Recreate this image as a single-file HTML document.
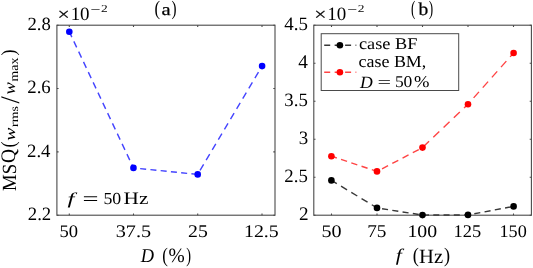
<!DOCTYPE html><html><head><meta charset="utf-8"><style>
html,body{margin:0;padding:0;background:#fff;}
svg{display:block;will-change:transform;}
text{font-family:"Liberation Serif",serif;fill:#000;font-kerning:none;text-rendering:geometricPrecision;}
.i{font-style:italic;}
</style></head><body>
<svg width="533" height="268" viewBox="0 0 533 268">
<rect width="533" height="268" fill="#fff"/>
<rect x="56.9" y="25.2" width="218.10" height="190.00" fill="none" stroke="#4a4a4a" stroke-width="1.1"/>
<path d="M69.3,215.2v-1.7M69.3,25.2v1.7M133.5,215.2v-1.7M133.5,25.2v1.7M197.7,215.2v-1.7M197.7,25.2v1.7M262.0,215.2v-1.7M262.0,25.2v1.7M56.9,215.20h1.7M275.0,215.20h-1.7M56.9,151.87h1.7M275.0,151.87h-1.7M56.9,88.53h1.7M275.0,88.53h-1.7M56.9,25.20h1.7M275.0,25.20h-1.7" stroke="#4a4a4a" stroke-width="1.1" fill="none"/>
<rect x="313.8" y="25.2" width="217.60" height="190.00" fill="none" stroke="#4a4a4a" stroke-width="1.1"/>
<path d="M331.5,215.2v-1.7M331.5,25.2v1.7M377.0,215.2v-1.7M377.0,25.2v1.7M422.5,215.2v-1.7M422.5,25.2v1.7M468.0,215.2v-1.7M468.0,25.2v1.7M513.5,215.2v-1.7M513.5,25.2v1.7M313.8,215.20h1.7M531.4,215.20h-1.7M313.8,177.20h1.7M531.4,177.20h-1.7M313.8,139.20h1.7M531.4,139.20h-1.7M313.8,101.20h1.7M531.4,101.20h-1.7M313.8,63.20h1.7M531.4,63.20h-1.7M313.8,25.20h1.7M531.4,25.20h-1.7" stroke="#4a4a4a" stroke-width="1.1" fill="none"/>
<path d="M69.30,31.70L133.45,167.90" stroke="#4444ff" stroke-width="1.4" fill="none" stroke-dasharray="6.632 4.698" stroke-dashoffset="0.663"/>
<path d="M133.45,167.90L197.70,174.40" stroke="#4444ff" stroke-width="1.4" fill="none" stroke-dasharray="6.031 4.272" stroke-dashoffset="3.568"/>
<path d="M197.70,174.40L262.10,66.10" stroke="#4444ff" stroke-width="1.4" fill="none" stroke-dasharray="6.981 4.945" stroke-dashoffset="7.330"/>
<circle cx="69.30" cy="31.70" r="3.3" fill="#0000ff"/>
<circle cx="133.45" cy="167.90" r="3.3" fill="#0000ff"/>
<circle cx="197.70" cy="174.40" r="3.3" fill="#0000ff"/>
<circle cx="262.10" cy="66.10" r="3.3" fill="#0000ff"/>
<path d="M331.40,180.40L377.00,207.90" stroke="#383838" stroke-width="1.4" fill="none" stroke-dasharray="7.007 4.963" stroke-dashoffset="0.701"/>
<path d="M377.00,207.90L422.50,215.10" stroke="#383838" stroke-width="1.4" fill="none" stroke-dasharray="6.075 4.303" stroke-dashoffset="5.265"/>
<path d="M422.50,215.10L468.00,214.90" stroke="#383838" stroke-width="1.4" fill="none" stroke-dasharray="6.000 4.250" stroke-dashoffset="9.700"/>
<path d="M468.00,214.90L513.60,206.40" stroke="#383838" stroke-width="1.4" fill="none" stroke-dasharray="6.103 4.323" stroke-dashoffset="4.018"/>
<circle cx="331.40" cy="180.40" r="3.3" fill="#000000"/>
<circle cx="377.00" cy="207.90" r="3.3" fill="#000000"/>
<circle cx="422.50" cy="215.10" r="3.3" fill="#000000"/>
<circle cx="468.00" cy="214.90" r="3.3" fill="#000000"/>
<circle cx="513.60" cy="206.40" r="3.3" fill="#000000"/>
<path d="M331.40,156.20L377.00,171.40" stroke="#ff4444" stroke-width="1.4" fill="none" stroke-dasharray="6.325 4.480" stroke-dashoffset="0.632"/>
<path d="M377.00,171.40L422.50,147.60" stroke="#ff4444" stroke-width="1.4" fill="none" stroke-dasharray="6.771 4.796" stroke-dashoffset="5.868"/>
<path d="M422.50,147.60L468.00,104.20" stroke="#ff4444" stroke-width="1.4" fill="none" stroke-dasharray="8.292 5.873" stroke-dashoffset="13.405"/>
<path d="M468.00,104.20L513.60,53.00" stroke="#ff4444" stroke-width="1.4" fill="none" stroke-dasharray="8.035 5.691" stroke-dashoffset="5.289"/>
<circle cx="331.40" cy="156.20" r="3.3" fill="#ff0000"/>
<circle cx="377.00" cy="171.40" r="3.3" fill="#ff0000"/>
<circle cx="422.50" cy="147.60" r="3.3" fill="#ff0000"/>
<circle cx="468.00" cy="104.20" r="3.3" fill="#ff0000"/>
<circle cx="513.60" cy="53.00" r="3.3" fill="#ff0000"/>
<text font-size="17.783" transform="translate(59.52,236.63) scale(1.0453,1)">50</text>
<text font-size="17.744" transform="translate(115.63,236.55) scale(1.1420,1)">37.5</text>
<text font-size="17.860" transform="translate(188.03,236.63) scale(1.1051,1)">25</text>
<text font-size="17.744" transform="translate(243.95,236.55) scale(1.1215,1)">12.5</text>
<text font-size="17.783" transform="translate(321.43,236.63) scale(1.1324,1)">50</text>
<text font-size="18.057" transform="translate(367.13,236.62) scale(1.0704,1)">75</text>
<text font-size="17.783" transform="translate(407.46,236.63) scale(1.1132,1)">100</text>
<text font-size="17.860" transform="translate(453.48,236.63) scale(1.0317,1)">125</text>
<text font-size="17.783" transform="translate(499.50,236.63) scale(1.0232,1)">150</text>
<text x="27.78" y="219.88" font-size="18.779">2.2</text>
<text x="27.02" y="156.55" font-size="18.779">2.4</text>
<text x="27.29" y="93.22" font-size="18.779">2.6</text>
<text x="27.45" y="29.89" font-size="18.698">2.8</text>
<text x="299.06" y="220.15" font-size="19.181">2</text>
<text x="284.37" y="181.88" font-size="18.779">2.5</text>
<text x="298.76" y="143.97" font-size="18.902">3</text>
<text x="284.37" y="105.88" font-size="18.779">3.5</text>
<text x="298.30" y="68.15" font-size="19.295">4</text>
<text x="284.36" y="29.88" font-size="18.889">4.5</text>
<text stroke="#000" stroke-width="0.2" font-size="17.435" transform="translate(57.59,20.45) scale(1.2409,1)">×</text>
<text font-size="18.820" transform="translate(70.63,20.22) scale(1.0092,1)">10</text>
<text font-size="13.000" transform="translate(90.52,13.99) scale(1.3555,1)">−</text>
<text font-size="10.723" transform="translate(101.01,12.00) scale(1.2562,1)">2</text>
<text stroke="#000" stroke-width="0.2" font-size="17.435" transform="translate(314.29,20.45) scale(1.2409,1)">×</text>
<text font-size="18.820" transform="translate(327.33,20.22) scale(1.0092,1)">10</text>
<text font-size="13.000" transform="translate(347.22,13.99) scale(1.3555,1)">−</text>
<text font-size="10.723" transform="translate(357.71,12.00) scale(1.2562,1)">2</text>
<text fill="#383838" font-size="20.513" transform="translate(154.46,15.33) scale(0.8162,1)">(</text>
<text stroke="#000" stroke-width="0.25" font-size="16.910" transform="translate(161.48,14.83) scale(1.2126,1)">a</text>
<text fill="#383838" font-size="20.513" transform="translate(171.51,15.33) scale(0.7402,1)">)</text>
<text fill="#383838" font-size="20.513" transform="translate(411.02,15.33) scale(0.6453,1)">(</text>
<text stroke="#000" stroke-width="0.25" font-size="18.050" transform="translate(418.60,14.82) scale(1.0795,1)">b</text>
<text fill="#383838" font-size="20.513" transform="translate(428.87,15.33) scale(0.6453,1)">)</text>
<text class="i" font-size="16.467" transform="translate(67.62,204.19) scale(1.5109,1)">f</text>
<text font-size="19.200" transform="translate(82.49,205.17) scale(1.4774,1)">=</text>
<text font-size="16.894" transform="translate(103.46,203.84) scale(1.0544,1)">50</text>
<text font-size="17.410" transform="translate(123.59,204.00) scale(1.2219,1)">Hz</text>
<text class="i" font-size="19.490" transform="translate(140.71,261.56) scale(0.9429,1)">D</text>
<text font-size="20.734" transform="translate(162.26,261.79) scale(0.8075,1)">(</text>
<text font-size="20.347" transform="translate(168.53,261.83) scale(0.9577,1)">%</text>
<text font-size="20.734" transform="translate(186.14,261.79) scale(0.6948,1)">)</text>
<text class="i" font-size="17.776" transform="translate(395.66,260.82) scale(1.2229,1)">f</text>
<text font-size="20.734" transform="translate(412.80,261.79) scale(0.8826,1)">(</text>
<text font-size="20.312" transform="translate(419.11,262.80) scale(1.0163,1)">Hz</text>
<text font-size="20.734" transform="translate(444.11,261.79) scale(0.8826,1)">)</text>
<text font-size="20.093" transform="translate(15.50,190.94) rotate(-90) scale(0.9370,1)">MS</text>
<text font-size="20.600" transform="translate(15.46,163.10) rotate(-90) scale(0.9430,1)">Q</text>
<text font-size="20.293" transform="translate(15.38,147.59) rotate(-90) scale(0.8826,1)">(</text>
<text class="i" font-size="15.360" transform="translate(14.65,140.87) rotate(-90) scale(1.2801,1)">w</text>
<text font-size="11.436" transform="translate(18.29,126.98) rotate(-90) scale(1.2113,1)">rms</text>
<text font-size="26.908" transform="translate(19.04,103.60) rotate(-90) scale(0.9765,1)">/</text>
<text class="i" font-size="16.427" transform="translate(14.64,94.54) rotate(-90) scale(1.1204,1)">w</text>
<text font-size="12.267" transform="translate(18.28,81.39) rotate(-90) scale(1.1249,1)">max</text>
<text font-size="20.072" transform="translate(15.23,55.38) rotate(-90) scale(0.8923,1)">)</text>
<rect x="321.2" y="33.7" width="137.5" height="56.8" fill="#fff" stroke="#4a4a4a" stroke-width="1"/>
<path d="M324.20,45.20L356.30,45.20" stroke="#383838" stroke-width="1.4" fill="none" stroke-dasharray="6.000 4.450" stroke-dashoffset="0.000"/>
<circle cx="339.9" cy="45.2" r="3.3" fill="#000"/>
<path d="M324.20,72.30L356.30,72.30" stroke="#ff4444" stroke-width="1.4" fill="none" stroke-dasharray="6.000 4.450" stroke-dashoffset="0.000"/>
<circle cx="339.9" cy="72.3" r="3.3" fill="#f00"/>
<text font-size="16.252" transform="translate(359.00,49.34) scale(1.1263,1)">case BF</text>
<text font-size="16.943" transform="translate(358.52,67.29) scale(1.0598,1)">case BM,</text>
<text class="i" font-size="17.054" transform="translate(360.10,87.57) scale(1.0368,1)">D</text>
<text font-size="14.800" transform="translate(377.50,87.16) scale(1.6263,1)">=</text>
<text font-size="16.597" transform="translate(394.88,87.44) scale(1.0533,1)">50</text>
<text font-size="16.514" transform="translate(414.07,87.38) scale(1.1246,1)">%</text>
</svg></body></html>
